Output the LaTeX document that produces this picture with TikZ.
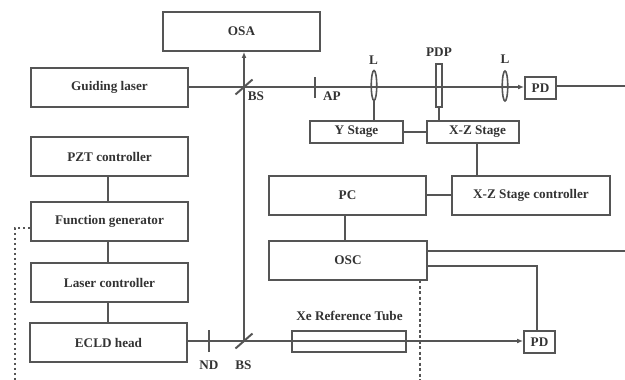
\documentclass[tikz,border=0pt]{standalone}
\usepackage{fontspec}
\setmainfont{Liberation Serif}
\usetikzlibrary{arrows.meta,shapes.geometric}
\definecolor{ink}{HTML}{555555}
\tikzset{
  wire/.style={draw=ink,line width=1.98pt},
  box/.style={wire,rectangle,inner sep=0pt,text=black!80,font=\bfseries\fontsize{13.2}{15}\selectfont},
  big/.style={box,minimum width=157pt,minimum height=39pt},
  stage/.style={box,minimum width=93pt,minimum height=22pt},
  pdbox/.style={box,minimum width=31pt,minimum height=22pt},
  lab/.style={inner sep=0pt,text=black!80,font=\bfseries\fontsize{13.2}{15}\selectfont},
  lensn/.style={wire,line width=1.6pt,ellipse,fill=none,minimum width=5.5pt,minimum height=30pt,inner sep=0pt},
  ray/.style={wire,-{Latex[length=6pt,width=5pt]}},
  dotline/.style={wire,dash pattern=on 2.5pt off 2.5pt}
}
\begin{document}
\begin{tikzpicture}[x=1pt,y=-1pt]
\useasboundingbox (0,0) rectangle (625,380);
% boxes
\node[big] (osa) at (241.5,31.5) {OSA};
\node[big] (guide) at (109.5,87.5) {Guiding laser};
\node[big] (pzt) at (109.5,156.5) {PZT controller};
\node[big] (fg) at (109.5,221.5) {Function generator};
\node[big] (lc) at (109.5,282.5) {Laser controller};
\node[big] (ecld) at (108.5,342.5) {ECLD head};
\node[big] (pc) at (347.5,195.5) {PC};
\node[big,minimum width=158pt] (osc) at (348,260.5) {OSC};
\node[big,minimum width=158pt] (xzc) at (531,195.5) {X-Z Stage controller};
\node[stage] (ys) at (356.5,132) {Y Stage};
\node[stage,minimum width=92pt] (xz) at (473,132) {\hspace*{9pt}X-Z Stage};
\node[pdbox] (pd1) at (540.5,88) {PD};
\node[pdbox] (pd2) at (539.5,342) {PD};
\node[wire,rectangle,minimum width=114pt,minimum height=21pt,inner sep=0pt] (tube) at (349,341.5) {};
\node[lab] (xelab) at (349.5,316) {Xe Reference Tube};
% optics
\node[lensn] (l1) at (374,85.5) {};
\node[lensn] (l2) at (505,86) {};
\node[wire,line width=1.6pt,rectangle,minimum width=6pt,minimum height=43pt,inner sep=0pt] (pdp) at (439,85.5) {};
\coordinate (bs1) at (244,87);
\coordinate (bs2) at (244,341);
\coordinate (ap) at (315,87);
\coordinate (nd) at (209,341);
\coordinate (outa) at (625,86);
\coordinate (outb) at (625,251);
\coordinate (ddl) at (15,228);
\coordinate (ddlb) at (15,380);
\coordinate (ddo) at (420,280);
\coordinate (ddob) at (420,380);
\coordinate (oscp) at (427,266);
\coordinate (colx) at (108,0);
\coordinate (pcy) at (0,195);
% labels
\node[lab] (bslab1) at (256,96) {BS};
\node[lab] (aplab) at (332,96) {AP};
\node[lab] (llab1) at (373.5,60) {L};
\node[lab] (pdplab) at (439,52) {PDP};
\node[lab] (llab2) at (505,59) {L};
\node[lab] (ndlab) at (209,365) {ND};
\node[lab] (bslab2) at (243.5,365) {BS};
% beams
\draw[ray,line width=1.5pt] (guide.east |- ap) -- (pd1.west |- ap);
\draw[ray] (bs2) -- (bs2 |- osa.south);
\draw[ray] (ecld.east |- nd) -- (pd2.west |- nd);
\draw[wire] (pd1.east |- outa) -- (outa);
% elements on beams
\draw[wire] ([shift={(-8.5,7.5)}]bs1) -- ([shift={(8.5,-7.5)}]bs1);
\draw[wire] ([shift={(-8.5,7.5)}]bs2) -- ([shift={(8.5,-7.5)}]bs2);
\draw[wire] ([yshift=-10.5pt]ap) -- ([yshift=10.5pt]ap);
\draw[wire] ([yshift=-11pt]nd) -- ([yshift=11pt]nd);
% connectors
\draw[wire] (colx |- pzt.south) -- (colx |- fg.north);
\draw[wire] (colx |- fg.south) -- (colx |- lc.north);
\draw[wire] (colx |- lc.south) -- (colx |- ecld.north);
\draw[wire] (l1.south) -- (ys.north -| l1.south);
\draw[wire] (pdp.south) -- (xz.north -| pdp.south);
\draw[wire] (ys.east) -- (xz.west);
\draw[wire] (xz.south -| 477,0) -- (xzc.north -| 477,0);
\draw[wire] (pc.east |- pcy) -- (xzc.west |- pcy);
\draw[wire] (345,0 |- pc.south) -- (345,0 |- osc.north);
\draw[wire] (osc.east |- outb) -- (outb);
\draw[wire] (oscp) -| (537,0 |- pd2.north);
% dashed
\draw[dotline] (ddl -| fg.west) -- (ddl) -- (ddlb);
\draw[wire,dash pattern=on 3pt off 2.5pt] (ddo) -- (ddob);
\end{tikzpicture}
\end{document}
